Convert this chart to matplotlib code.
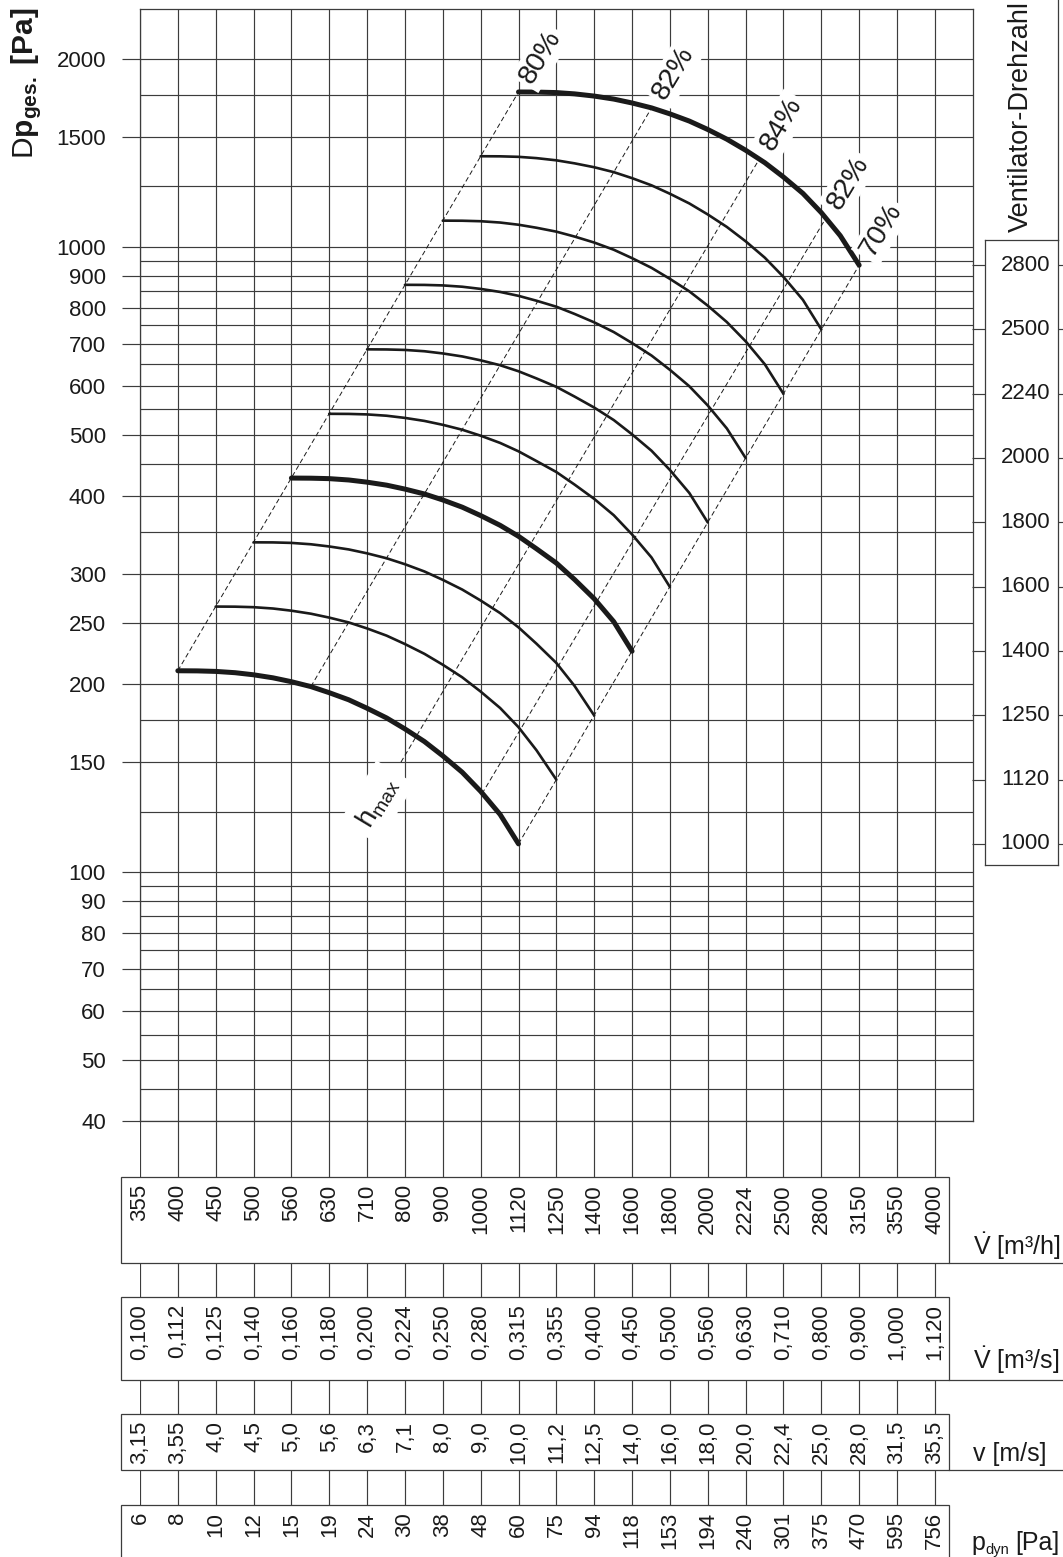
import numpy as np
import matplotlib
matplotlib.use('Agg')
import matplotlib.pyplot as plt
from matplotlib.patches import Rectangle
from matplotlib.ticker import FixedLocator, FixedFormatter, NullLocator

plt.rcParams['font.family'] = ['Liberation Sans', 'DejaVu Sans']
plt.rcParams['mathtext.fontset'] = 'custom'
plt.rcParams['mathtext.rm'] = 'Liberation Sans'
plt.rcParams['mathtext.bf'] = 'Liberation Sans:bold'
plt.rcParams['mathtext.it'] = 'Liberation Sans:italic'

# --- data ---
flow_mh = [355, 400, 450, 500, 560, 630, 710, 800, 900, 1000, 1120,
           1250, 1400, 1600, 1800, 2000, 2224, 2500, 2800, 3150, 3550, 4000]
flow_edge = 4500  # last (unlabelled) grid column
flow_ms = ['0,100', '0,112', '0,125', '0,140', '0,160', '0,180', '0,200', '0,224',
           '0,250', '0,280', '0,315', '0,355', '0,400', '0,450', '0,500', '0,560',
           '0,630', '0,710', '0,800', '0,900', '1,000', '1,120']
velocity = ['3,15', '3,55', '4,0', '4,5', '5,0', '5,6', '6,3', '7,1', '8,0', '9,0', '10,0',
            '11,2', '12,5', '14,0', '16,0', '18,0', '20,0', '22,4', '25,0', '28,0', '31,5', '35,5']
p_dyn = ['6', '8', '10', '12', '15', '19', '24', '30', '38', '48', '60',
         '75', '94', '118', '153', '194', '240', '301', '375', '470', '595', '756']

dp_labels = [40, 50, 60, 70, 80, 90, 100, 150, 200, 250, 300, 400, 500,
             600, 700, 800, 900, 1000, 1500, 2000]
dp_grid = [40, 45, 50, 55, 60, 65, 70, 75, 80, 85, 90, 95, 100, 125, 150, 175, 200,
           250, 300, 350, 400, 450, 500, 550, 600, 650, 700, 750, 800, 850, 900, 950,
           1000, 1250, 1500, 1750, 2000]

rpm = [1000, 1120, 1250, 1400, 1600, 1800, 2000, 2240, 2500, 2800]
rpm_bold = [1000, 1400, 2800]
# flows (half grid steps) at which the curves were read; curve k starts at entry 2k
flow_read = [400, 425, 450, 475, 500, 530, 560, 595, 630, 670, 710, 755, 800, 850,
             900, 950, 1000, 1060, 1120, 1180, 1250, 1320, 1400, 1500, 1600, 1700,
             1800, 1900, 2000, 2110, 2224, 2360, 2500, 2650, 2800, 2970, 3150]
curve_dp = [
    [210, 209.9, 209.5, 208.5, 206.9, 204.6, 201.7, 198.1, 193.7, 188.7,
     182.9, 176.5, 169.5, 161.8, 153.5, 144.5, 134.7, 123.7, 111.0],
    [266, 265.9, 265.4, 264.1, 262.0, 259.1, 255.4, 250.9, 245.4, 239.0,
     231.7, 223.5, 214.7, 205.0, 194.5, 183.1, 170.6, 156.7, 140.6],
    [337, 336.9, 336.3, 334.6, 331.9, 328.3, 323.6, 317.8, 310.9, 302.7,
     293.5, 283.2, 272.0, 259.7, 246.4, 232.0, 216.1, 198.6, 178.1],
    [427, 426.8, 426.1, 424.0, 420.6, 416.0, 410.0, 402.7, 393.9, 383.6,
     371.9, 358.8, 344.6, 329.1, 312.2, 293.9, 273.8, 251.6, 225.7],
    [541, 540.8, 539.8, 537.2, 532.9, 527.0, 519.5, 510.2, 499.1, 486.0,
     471.2, 454.6, 436.6, 416.9, 395.5, 372.4, 346.9, 318.7, 285.9],
    [686, 685.7, 684.5, 681.2, 675.7, 668.3, 658.8, 647.0, 632.8, 616.3,
     597.5, 576.5, 553.6, 528.7, 501.6, 472.2, 439.9, 404.2, 362.6],
    [870, 869.7, 868.1, 863.9, 857.0, 847.5, 835.4, 820.5, 802.6, 781.6,
     757.7, 731.1, 702.1, 670.5, 636.1, 598.8, 557.9, 512.6, 459.8],
    [1102, 1101.6, 1099.6, 1094.3, 1085.5, 1073.5, 1058.2, 1039.3, 1016.6, 990.0,
     959.8, 926.1, 889.3, 849.3, 805.7, 758.5, 706.7, 649.3, 582.4],
    [1397, 1396.5, 1393.9, 1387.3, 1376.1, 1360.9, 1341.5, 1317.5, 1288.7, 1255.0,
     1216.7, 1174.0, 1127.4, 1076.7, 1021.4, 961.5, 895.8, 823.1, 738.3],
    [1770, 1769.3, 1766.1, 1757.7, 1743.5, 1724.3, 1699.7, 1669.3, 1632.8, 1590.1,
     1541.6, 1487.5, 1428.4, 1364.1, 1294.1, 1218.3, 1135.0, 1042.8, 935.4],
]

# efficiency lines (dashed), lower and upper end
eta_labels = ['80%', '82%', '84%', '82%', '70%']
eta_q_lo = [400, 595, 790, 1004, 1120]
eta_dp_lo = [210, 198.1, 150, 133.5, 111]
eta_q_hi = [1120, 1700, 2320, 2840, 3150]
eta_dp_hi = [1770, 1669, 1382, 1112, 935.4]

# --- figure layout (pixels of a 1063 x 1557 picture) ---
W, H = 1063, 1557
INK = '#1a1a1a'
GRID = '#3c3c3c'


def px(x0, y0, x1, y1):
    return [x0 / W, 1 - y1 / H, (x1 - x0) / W, (y1 - y0) / H]


# the flow axis is a preferred-number scale: every tick is one equal step
knots = np.log(np.array(flow_mh + [flow_edge], dtype=float))
steps = np.arange(len(knots), dtype=float)


def q_fwd(q):
    return np.interp(np.log(np.maximum(q, 1e-6)), knots, steps)


def q_inv(s):
    return np.exp(np.interp(s, steps, knots))


fig = plt.figure(figsize=(W / 100, H / 100), dpi=100)
ax = fig.add_axes(px(140, 9.3, 972.7, 1121))
ax.set_xscale('function', functions=(q_fwd, q_inv))
ax.set_yscale('log')
ax.set_xlim(flow_mh[0], flow_edge)
ax.set_ylim(40, 2400)

for q in flow_mh:
    ax.axvline(q, color=GRID, lw=0.85, zorder=1)
for p in dp_grid:
    ax.axhline(p, color=GRID, lw=0.85, zorder=1)
for s in ax.spines.values():
    s.set_color(GRID)
    s.set_linewidth(0.9)

ax.xaxis.set_major_locator(NullLocator())
ax.xaxis.set_minor_locator(NullLocator())
ax.yaxis.set_major_locator(FixedLocator(dp_labels))
ax.yaxis.set_major_formatter(FixedFormatter([str(v) for v in dp_labels]))
ax.yaxis.set_minor_locator(NullLocator())
ax.tick_params(axis='y', direction='out', length=13, width=0.85, color=GRID,
               pad=11.5, labelsize=16, labelcolor=INK)

# fan curves
for k, (dp, n) in enumerate(zip(curve_dp, rpm)):
    q = flow_read[2 * k: 2 * k + len(dp)]
    lw = 3.6 if n in rpm_bold else 1.9
    ax.plot(q, dp, color=INK, lw=lw, solid_capstyle='round',
            solid_joinstyle='round', zorder=4)

# efficiency lines
for lab, q0, p0, q1, p1 in zip(eta_labels, eta_q_lo, eta_dp_lo, eta_q_hi, eta_dp_hi):
    ax.plot([q0, q1], [p0, p1], color=INK, lw=0.7, ls=(0, (5, 3)), zorder=3)
    ax.annotate(lab, xy=(q1, p1), xytext=(16, 25), textcoords='offset points',
                rotation=59, ha='center', va='center', fontsize=20.5, color=INK,
                bbox=dict(boxstyle='square,pad=0.12', fc='white', ec='none'), zorder=5)
ax.annotate(r'$\mathrm{h}_{\mathrm{max}}$', xy=(eta_q_lo[2], eta_dp_lo[2]),
            xytext=(-17, -29), textcoords='offset points', rotation=59,
            ha='center', va='center', fontsize=20, color=INK,
            bbox=dict(boxstyle='square,pad=0.3', fc='white', ec='none'), zorder=5)

fig.text(27 / W, 1 - 83 / H, r'$\mathrm{D}\mathbf{p}_{\mathbf{ges.}}\ \mathbf{[Pa]}$',
         rotation=90, ha='center', va='center', fontsize=21.5, color=INK)

# rpm scale on the right, aligned with the curve end points
fig.canvas.draw()
inv = ax.transData.inverted()
p_box_top = inv.transform((500, H - 240))[1]
p_box_bot = inv.transform((500, H - 865))[1]
rax = fig.add_axes(px(985, 240, 1058, 865))
rax.set_yscale('log')
rax.set_ylim(p_box_bot, p_box_top)
rax.set_xlim(0, 1)
rax.xaxis.set_major_locator(NullLocator())
end_dp = [dp[-1] for dp in curve_dp]
rax.yaxis.set_major_locator(FixedLocator(end_dp))
rax.yaxis.set_minor_locator(NullLocator())
rax.tick_params(axis='y', direction='out', length=9.4, width=0.85, color=GRID,
                left=True, right=True, labelleft=False)
for s in rax.spines.values():
    s.set_color(GRID)
    s.set_linewidth(0.9)
for p, n in zip(end_dp, rpm):
    rax.text(0.55, p, str(n), transform=rax.get_yaxis_transform(),
             ha='center', va='center', fontsize=16, color=INK)
rax.plot([1, 1], [1, 1.5], color=GRID, lw=0.9, transform=rax.transAxes, clip_on=False)
fig.text(1021 / W, 1 - 117 / H, 'Ventilator-Drehzahl', rotation=90,
         ha='center', va='center', fontsize=19.5, color=INK)

# conversion tables below the diagram
tab = fig.add_axes(px(140, 1121, 972.7, H), sharex=ax)
tab.set_ylim(H, 1121)
tab.axis('off')
tab.vlines(flow_mh, 1121, H, color=GRID, lw=0.85, zorder=1)

rows = [
    ([str(v) for v in flow_mh], 1177, 1263, r'$\dot{\mathrm{V}}$ [m³/h]', 1255),
    (flow_ms, 1297, 1380, r'$\dot{\mathrm{V}}$ [m³/s]', 1369),
    (velocity, 1414, 1470, 'v [m/s]', 1461),
    (p_dyn, 1505, 1600, None, 1550),
]
bx0 = (121 - 140) / 832.7
bx1 = (949 - 140) / 832.7


def ux(xpix):
    return (xpix - 140) / 832.7


trans = tab.get_yaxis_transform()
for labels, top, bot, unit, base in rows:
    tab.add_patch(Rectangle((bx0, top), bx1 - bx0, bot - top, transform=trans,
                            fc='white', ec=GRID, lw=0.9, zorder=2, clip_on=False))
    tab.plot([bx1, 1.2], [bot, bot], color=GRID, lw=0.9, transform=trans,
             clip_on=False, zorder=2)
    for q, lab in zip(flow_mh, labels):
        tab.text(q, top + 7, lab, rotation=90, ha='center', va='top',
                 fontsize=16, color=INK, zorder=3)
    if unit:
        tab.text(ux(973), base, unit, transform=trans, ha='left', va='baseline',
                 fontsize=18, color=INK)

# p_dyn unit label with its small subscript
tab.text(ux(971), 1550, 'p', transform=trans, ha='left', va='baseline', fontsize=18, color=INK)
tab.text(ux(985), 1554, 'dyn', transform=trans, ha='left', va='baseline', fontsize=10.5, color=INK)
tab.text(ux(1015), 1550, '[Pa]', transform=trans, ha='left', va='baseline', fontsize=18, color=INK)

fig.savefig('out.png', dpi=100)
